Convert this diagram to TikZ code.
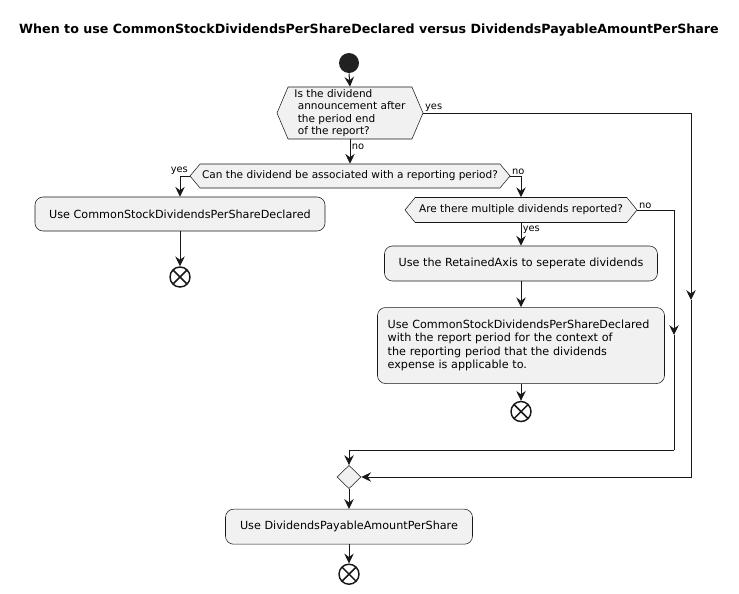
\documentclass[tikz,border=0pt]{standalone}
\usepackage{fontspec}
\setmainfont{DejaVu Sans}
\usetikzlibrary{shapes.symbols, shapes.geometric, positioning}
\usetikzlibrary{arrows.meta}
\tikzset{>={Stealth[width=2.5mm,length=2.6mm,inset=0.9mm]}}
\definecolor{boxfill}{HTML}{F1F1F1}
\definecolor{boxline}{HTML}{181818}

\begin{document}
\begin{tikzpicture}[x=0.75pt, y=-0.75pt, line width=0.75pt, draw=boxline, font=\fontsize{8.4pt}{10pt}\selectfont, action/.style={rectangle, rounded corners=6pt, draw=boxline, line width=0.4pt, fill=boxfill, inner sep=0pt}, decision/.style={signal, signal to=west and east, draw=boxline, line width=0.4pt, fill=boxfill, inner sep=0pt, font=\fontsize{7.9pt}{9.3pt}\selectfont}, startnode/.style={circle, fill=black!87, draw=none, minimum size=15pt, inner sep=0pt}, endnode/.style={circle, draw=boxline, fill=white, line width=1.1pt, minimum size=15pt, inner sep=0pt, path picture={\draw[line width=1.1pt] (path picture bounding box.north west) -- (path picture bounding box.south east) (path picture bounding box.north east) -- (path picture bounding box.south west);}}, merge/.style={diamond, draw=boxline, line width=0.4pt, fill=boxfill, minimum width=18pt, minimum height=17.5pt, inner sep=0pt}, guard/.style={inner sep=1pt, font=\fontsize{7.4pt}{8pt}\selectfont}]
    \useasboundingbox (0,0) rectangle (739,593);

    %Nodes
    \node[font=\bfseries\fontsize{9.5pt}{12pt}\selectfont](title) at (369,30){When to use CommonStockDividendsPerShareDeclared versus DividendsPayableAmountPerShare};
    \node[startnode](start) at (349,63){};
    \node[decision, signal pointer angle=134, minimum width=109.5pt, minimum height=39pt, align=left](announce) at (350,113){Is the dividend\\\ announcement after\\\ the period end\\\ of the report?};
    \node[decision, signal pointer angle=100, minimum width=240pt, minimum height=18pt](associate) at (350,176){Can the dividend be associated with a reporting period?};
    \node[action, minimum width=217.5pt, minimum height=25.5pt](declared) at (180,214){Use CommonStockDividendsPerShareDeclared};
    \node[endnode](endleft)[below=26.25pt of declared]{};
    \node[decision, signal pointer angle=102, minimum width=174pt, minimum height=18.75pt](multiple) at (521,210){Are there multiple dividends reported?};
    \node[action, minimum width=204.75pt, minimum height=26.25pt](retained) at (521,263.5){Use the RetainedAxis to seperate dividends};
    \node[action, minimum width=215.25pt, minimum height=57pt, text width=200pt, align=left](context)[below=19.5pt of retained]{Use CommonStockDividendsPerShareDeclared\\with the report period for the context of\\the reporting period that the dividends\\expense is applicable to.};
    \node[endnode](endright)[below=12.75pt of context]{};
    \node[merge](join) at (349,477){};
    \node[action, minimum width=185.25pt, minimum height=26.25pt](payable)[below=15pt of join]{Use DividendsPayableAmountPerShare};
    \node[endnode](endbottom)[below=14.25pt of payable]{};

    %Branch points
    \coordinate (yesmid) at (691,300);
    \coordinate (nomid) at (674,335);
    \coordinate (nojoin) at (674,450);

    %Lines
    \draw[->] (start.south) -- (announce.north);
    \draw[->] (announce.south) -- node[guard, right, pos=0.3]{no} (associate.north);
    \draw[->] (announce.east) -| (yesmid);
    \draw[->] (yesmid) |- (join.east);
    \node[guard, anchor=south west] (yesone) at (announce.east) {yes};
    \draw[->] (associate.west) -| (declared.north);
    \node[guard, anchor=south east] (yestwo) at (associate.west) {yes};
    \draw[->] (associate.east) -| (multiple.north);
    \node[guard, anchor=south west] (notwo) at (associate.east) {no};
    \draw[->] (declared.south) -- (endleft.north);
    \draw[->] (multiple.south) -- node[guard, right, pos=0.3]{yes} (retained.north);
    \draw[->] (multiple.east) -| (nomid);
    \node[guard, anchor=south west] (nothree) at (multiple.east) {no};
    \draw (nomid) -- (nojoin);
    \draw[->] (nojoin) -| (join.north);
    \draw[->] (retained.south) -- (context.north);
    \draw[->] (context.south) -- (endright.north);
    \draw[->] (join.south) -- (payable.north);
    \draw[->] (payable.south) -- (endbottom.north);

\end{tikzpicture}
\end{document}
